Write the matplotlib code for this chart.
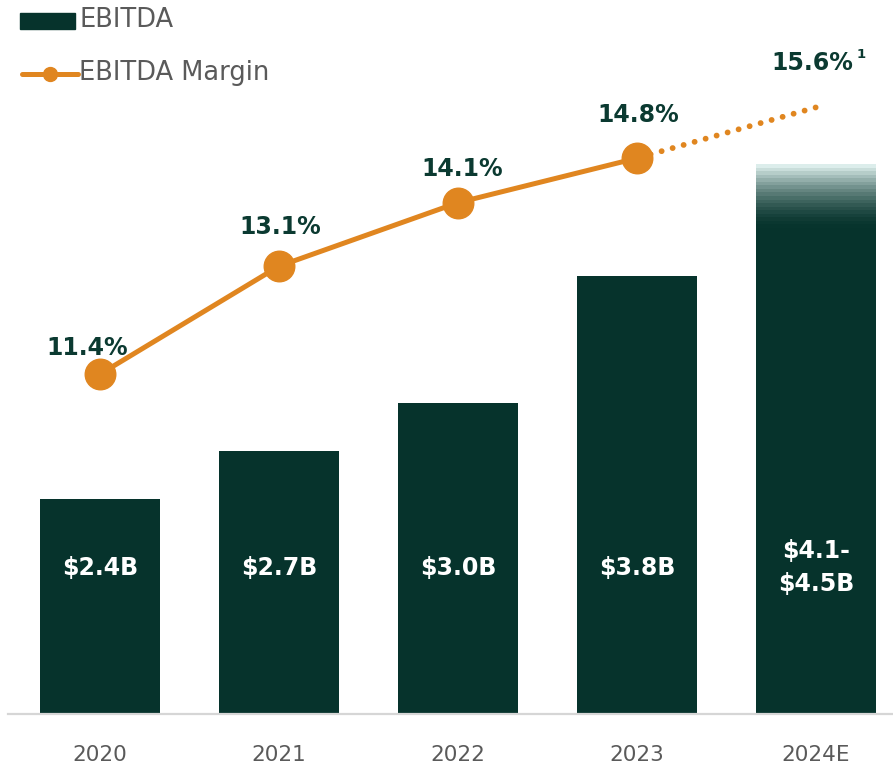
import matplotlib
matplotlib.use("Agg")
import matplotlib.pyplot as plt
import numpy as np
from matplotlib.colors import to_rgb
from matplotlib.lines import Line2D
from matplotlib.patches import Rectangle
from matplotlib.transforms import blended_transform_factory

# --------------------------------------------------------------------------
# Data
# --------------------------------------------------------------------------
years = ["2020", "2021", "2022", "2023", "2024E"]
ebitda = [2.4, 2.7, 3.0, 3.8, 4.1]          # $B (2024E = low end of guidance)
ebitda_2024_high = 4.5                      # $B, high end of 2024E guidance
ebitda_labels = ["$2.4B", "$2.7B", "$3.0B", "$3.8B", "$4.1-\n$4.5B"]
margin = [11.4, 13.1, 14.1, 14.8, 15.6]     # %
margin_labels = ["11.4%", "13.1%", "14.1%", "14.8%", "15.6%"]

# --------------------------------------------------------------------------
# Style
# --------------------------------------------------------------------------
DARK = "#06332c"
ORANGE = "#e08620"
LABEL = "#0b3a31"
GREY = "#5a5a5a"
LIGHT = "#e6f6f4"

plt.rcParams["font.family"] = ["DejaVu Sans"]

fig = plt.figure(figsize=(8.93, 7.65), dpi=100)
ax = fig.add_axes([8 / 893, 1 - 714 / 765, 885 / 893, 714 / 765])

x = np.arange(len(years))
ax.bar(x, ebitda, width=0.67, color=DARK, zorder=2)

# gradient cap on the 2024E bar: low -> high end of guidance
n_bands = 18
step = (ebitda_2024_high - ebitda[-1]) / n_bands
dark_rgb, light_rgb = np.array(to_rgb(DARK)), np.array(to_rgb(LIGHT))
for i in range(n_bands):
    t = ((i + 0.5) / n_bands) ** 1.6
    ax.bar(x[-1], step, bottom=ebitda[-1] + i * step, width=0.67,
           color=dark_rgb * (1 - t) + light_rgb * t, zorder=2, linewidth=0)

ax.set_xlim(-0.514, 4.43)
ax.set_ylim(1.05, 5.53)
ax.set_xticks(x)
ax.set_xticklabels(years, fontsize=15.5, color=GREY)
ax.tick_params(axis="x", length=0, pad=22)
ax.set_yticks([])
for side in ("top", "left", "right"):
    ax.spines[side].set_visible(False)
ax.spines["bottom"].set_color("#d6d6d6")
ax.spines["bottom"].set_linewidth(1.6)

# bar value labels
tr = blended_transform_factory(ax.transData, ax.transAxes)
for xi, lab in zip(x, ebitda_labels):
    ax.text(xi, 0.205, lab, transform=tr, ha="center", va="center",
            color="white", fontsize=17, fontweight="bold",
            linespacing=1.45, zorder=3)

# margin line on a twin axis
ax2 = ax.twinx()
ax2.set_ylim(6.05, 17.29)
ax2.set_yticks([])
for side in ("top", "left", "right", "bottom"):
    ax2.spines[side].set_visible(False)

ax2.plot(x[:4], margin[:4], color=ORANGE, lw=3.6, marker="o", ms=22,
         zorder=4, solid_capstyle="round")
ax2.plot(x[3:], margin[3:], color=ORANGE, lw=4.2,
         linestyle=(1.5, (0.01, 1.95)), dash_capstyle="round", zorder=3)

offsets = [(-9, 19), (1, 28), (3, 24), (1, 31), (-3, 32)]
for xi, m, lab, off in zip(x, margin, margin_labels, offsets):
    ax2.annotate(lab, (xi, m), xytext=off, textcoords="offset points",
                 ha="center", va="center", color=LABEL, fontsize=17,
                 fontweight="bold", zorder=5)
# footnote marker on the 2024E margin
ax2.annotate("1", (x[-1], margin[-1]), xytext=(29, 38), textcoords="offset points",
             ha="left", va="center", color=LABEL, fontsize=9.5, fontweight="bold")

# legend drawn by hand (top-left)
fig.patches.append(Rectangle((20 / 893, 1 - 29 / 765), 55 / 893, 16 / 765,
                             transform=fig.transFigure, color=DARK))
fig.text(79 / 893, 1 - 20 / 765, "EBITDA", ha="left", va="center",
         fontsize=18.5, color=GREY)
fig.lines.append(Line2D([22 / 893, 78 / 893], [1 - 74 / 765] * 2,
                        transform=fig.transFigure, color=ORANGE, lw=3.6,
                        solid_capstyle="round"))
fig.lines.append(Line2D([50 / 893], [1 - 74 / 765], transform=fig.transFigure,
                        color=ORANGE, marker="o", ms=10))
fig.text(79 / 893, 1 - 73 / 765, "EBITDA Margin", ha="left", va="center",
         fontsize=18.5, color=GREY)

fig.savefig("out.png", dpi=100)
